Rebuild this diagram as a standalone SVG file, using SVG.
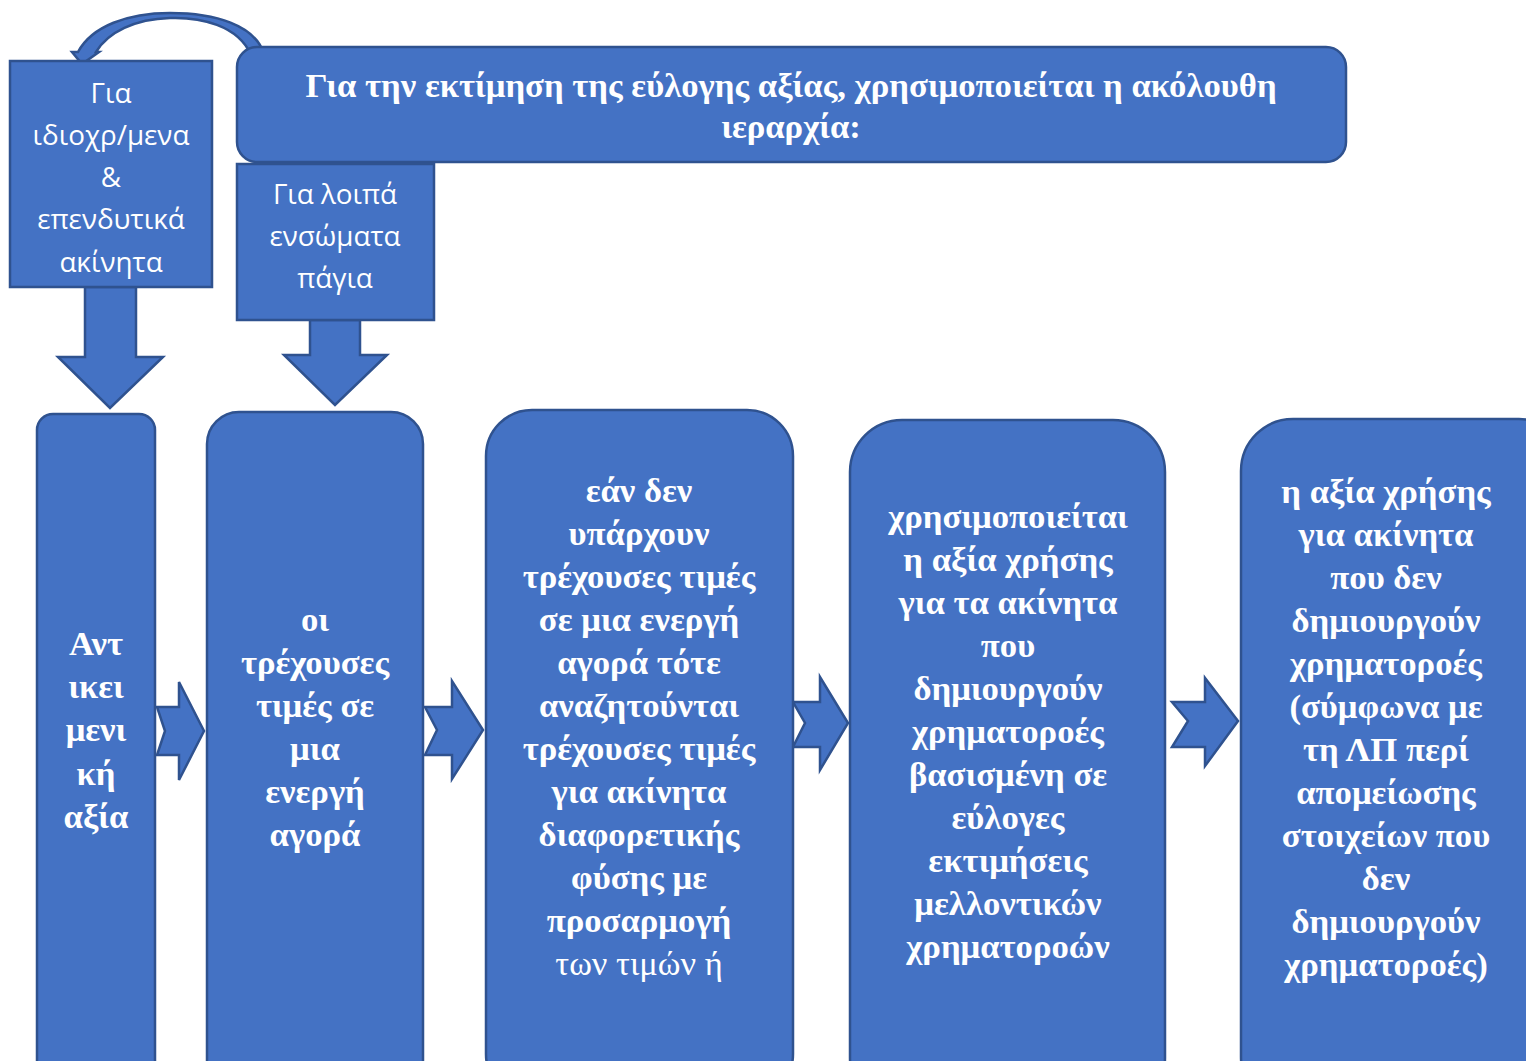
<svg xmlns="http://www.w3.org/2000/svg" width="1526" height="1061" viewBox="0 0 1526 1061">
<style>
.sh{fill:#4472C4;stroke:#2F528F;stroke-width:2.5}
.tb{font-family:"Liberation Serif","Times New Roman",serif;font-weight:bold;font-size:34.7px;fill:#fff;text-anchor:middle}
.ts{font-family:"Open Sans","Noto Sans",sans-serif;font-size:27.8px;fill:#fff;text-anchor:middle}
.tn{font-family:"Liberation Serif","Times New Roman",serif;font-size:34.5px;fill:#fff;text-anchor:middle}
</style>
<rect width="1526" height="1061" fill="#fff"/>
<g id="connectors">
<path class="sh" d="M85,287 L136,287 L136,357 L163,357 L110,408 L58,357 L85,357 Z"/>
<path class="sh" d="M310,320 L360,320 L360,355 L387,355 L335,405 L284,355 L310,355 Z"/>
<path class="sh" d="M157,707 L179,707 L179,682 L204,731 L179,780 L179,755 L157,755 L165,731 Z"/>
<path class="sh" d="M425,707 L452,707 L452,681 L483,730 L452,779 L452,755 L425,755 L437,730 Z"/>
<path class="sh" d="M793,702 L820,702 L820,677 L848,723 L820,770 L820,747 L793,747 L805,723 Z"/>
<path class="sh" d="M1172,702 L1205,702 L1205,678 L1238,721 L1205,766 L1205,747 L1172,747 L1188,721 Z"/>
<path class="sh" d="M264,54 L251,55 C238,25 200,17 170,18 C135,19 108,32 96,52 L99,52 L82,64 L72,52 L78,52 C92,26 128,13 170,13 C215,13 255,25 264,54 Z" stroke-width="1.5"/>
</g>
<g id="top">
<rect class="sh" x="237" y="47" width="1109" height="115" rx="20"/>
<text class="tb" x="791" y="97">Για την εκτίμηση της εύλογης αξίας, χρησιμοποιείται η ακόλουθη</text>
<text class="tb" x="791" y="138">ιεραρχία:</text>
</g>
<g id="own-use">
<rect class="sh" x="10" y="61" width="202" height="226"/>
<text class="ts" x="111" y="103">Για</text>
<text class="ts" x="111" y="145">ιδιοχρ/μενα</text>
<text class="ts" x="111" y="187">&amp;</text>
<text class="ts" x="111" y="229">επενδυτικά</text>
<text class="ts" x="111" y="272">ακίνητα</text>
</g>
<g id="other-fixed">
<rect class="sh" x="237" y="164" width="197" height="156"/>
<text class="ts" x="335" y="204">Για λοιπά</text>
<text class="ts" x="335" y="246">ενσώματα</text>
<text class="ts" x="335" y="288">πάγια</text>
</g>
<g id="box1">
<rect class="sh" x="37" y="414" width="118" height="680" rx="16"/>
<text class="tb" x="96" y="655">Αντ</text>
<text class="tb" x="96" y="698">ικει</text>
<text class="tb" x="96" y="741">μενι</text>
<text class="tb" x="96" y="785">κή</text>
<text class="tb" x="96" y="828">αξία</text>
</g>
<g id="box2">
<rect class="sh" x="207" y="412" width="216" height="680" rx="32"/>
<text class="tb" x="315" y="631">οι</text>
<text class="tb" x="315" y="674">τρέχουσες</text>
<text class="tb" x="315" y="717">τιμές σε</text>
<text class="tb" x="315" y="760">μια</text>
<text class="tb" x="315" y="803">ενεργή</text>
<text class="tb" x="315" y="846">αγορά</text>
</g>
<g id="box3">
<rect class="sh" x="486" y="410" width="307" height="690" rx="46"/>
<text class="tb" x="639" y="502">εάν δεν</text>
<text class="tb" x="639" y="545">υπάρχουν</text>
<text class="tb" x="639" y="588">τρέχουσες τιμές</text>
<text class="tb" x="639" y="631">σε μια ενεργή</text>
<text class="tb" x="639" y="674">αγορά τότε</text>
<text class="tb" x="639" y="717">αναζητούνται</text>
<text class="tb" x="639" y="760">τρέχουσες τιμές</text>
<text class="tb" x="639" y="803">για ακίνητα</text>
<text class="tb" x="639" y="846">διαφορετικής</text>
<text class="tb" x="639" y="889">φύσης με</text>
<text class="tb" x="639" y="932">προσαρμογή</text>
<text class="tn" x="639" y="975">των τιμών ή</text>
</g>
<g id="box4">
<rect class="sh" x="850" y="420" width="315" height="690" rx="52"/>
<text class="tb" x="1008" y="528">χρησιμοποιείται</text>
<text class="tb" x="1008" y="571">η αξία χρήσης</text>
<text class="tb" x="1008" y="614">για τα ακίνητα</text>
<text class="tb" x="1008" y="657">που</text>
<text class="tb" x="1008" y="700">δημιουργούν</text>
<text class="tb" x="1008" y="743">χρηματοροές</text>
<text class="tb" x="1008" y="786">βασισμένη σε</text>
<text class="tb" x="1008" y="829">εύλογες</text>
<text class="tb" x="1008" y="872">εκτιμήσεις</text>
<text class="tb" x="1008" y="915">μελλοντικών</text>
<text class="tb" x="1008" y="958">χρηματοροών</text>
</g>
<g id="box5">
<rect class="sh" x="1241" y="419" width="330" height="690" rx="52"/>
<text class="tb" x="1386" y="503">η αξία χρήσης</text>
<text class="tb" x="1386" y="546">για ακίνητα</text>
<text class="tb" x="1386" y="589">που δεν</text>
<text class="tb" x="1386" y="632">δημιουργούν</text>
<text class="tb" x="1386" y="675">χρηματοροές</text>
<text class="tb" x="1386" y="718">(σύμφωνα με</text>
<text class="tb" x="1386" y="761">τη ΛΠ περί</text>
<text class="tb" x="1386" y="804">απομείωσης</text>
<text class="tb" x="1386" y="847">στοιχείων που</text>
<text class="tb" x="1386" y="890">δεν</text>
<text class="tb" x="1386" y="933">δημιουργούν</text>
<text class="tb" x="1386" y="976">χρηματοροές)</text>
</g>
</svg>
